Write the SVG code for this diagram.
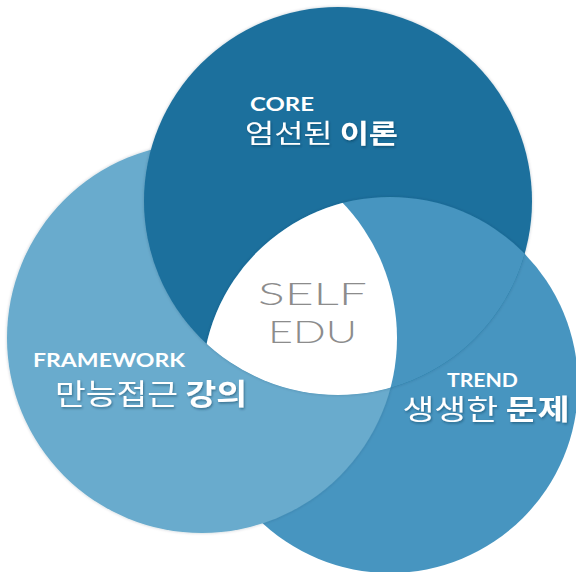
<svg xmlns="http://www.w3.org/2000/svg" width="576" height="572" viewBox="0 0 576 572">
  <style>
    .en { font-family: "Lato", "Liberation Sans", sans-serif; font-weight: 700; fill: #ffffff; }
    .ko { font-family: "Noto Sans CJK KR", "Noto Sans", sans-serif; fill: #ffffff; filter: url(#txtShadow); }
    .ko .b { font-weight: 700; }
    .center-txt { font-family: "Lato", "Open Sans", "Liberation Sans", sans-serif; font-weight: 300; fill: #8c8c8c; }
  </style>
  <defs>
    <clipPath id="clipT"><circle cx="338" cy="201" r="194"/></clipPath>
    <clipPath id="clipL"><circle cx="202" cy="338" r="195"/></clipPath>
    <filter id="txtShadow" x="-10%" y="-30%" width="120%" height="160%">
      <feDropShadow dx="1" dy="1.5" stdDeviation="1" flood-color="#0b2f45" flood-opacity="0.45"/>
    </filter>
    <filter id="edgeShadow" x="-10%" y="-10%" width="120%" height="120%">
      <feDropShadow dx="0" dy="0" stdDeviation="1.5" flood-color="#0b2f45" flood-opacity="0.25"/>
    </filter>
  </defs>
  <rect width="576" height="572" fill="#ffffff"/>

  <g id="trend">
    <circle cx="390" cy="385" r="188" fill="#4795c0"/>
    <text class="en" x="482.5" y="387" font-size="18" text-anchor="middle" textLength="71" lengthAdjust="spacingAndGlyphs">TREND</text>
    <text class="ko" x="486" y="420" font-size="28" text-anchor="middle" textLength="167" lengthAdjust="spacingAndGlyphs">생생한 <tspan class="b">문제</tspan></text>
  </g>

  <g id="framework">
    <circle cx="202" cy="338" r="195" fill="#69abcd" filter="url(#edgeShadow)"/>
    <text class="en" x="109" y="367" font-size="18" text-anchor="middle" textLength="152" lengthAdjust="spacingAndGlyphs">FRAMEWORK</text>
    <text class="ko" x="151" y="405" font-size="29" text-anchor="middle" textLength="192" lengthAdjust="spacingAndGlyphs">만능접근 <tspan class="b">강의</tspan></text>
  </g>

  <g id="core">
    <circle cx="338" cy="201" r="194" fill="#1c6f9d" filter="url(#edgeShadow)"/>
    <text class="en" x="282" y="111" font-size="18" text-anchor="middle" textLength="64" lengthAdjust="spacingAndGlyphs">CORE</text>
    <text class="ko" x="321.5" y="143" font-size="26" text-anchor="middle" textLength="153" lengthAdjust="spacingAndGlyphs">엄선된 <tspan class="b">이론</tspan></text>
  </g>

  <g id="trend-over-core" clip-path="url(#clipT)">
    <circle cx="390" cy="385" r="188" fill="#4795c0" filter="url(#edgeShadow)"/>
  </g>

  <g id="self-edu">
    <g clip-path="url(#clipL)">
      <circle cx="390" cy="385" r="188" fill="#ffffff" clip-path="url(#clipT)"/>
    </g>
    <text class="center-txt" x="312.5" y="305" font-size="32" text-anchor="middle" textLength="109" lengthAdjust="spacingAndGlyphs">SELF</text>
    <text class="center-txt" x="312.5" y="343" font-size="32" text-anchor="middle" textLength="89" lengthAdjust="spacingAndGlyphs">EDU</text>
  </g>

  <g id="connectors"/>
</svg>
